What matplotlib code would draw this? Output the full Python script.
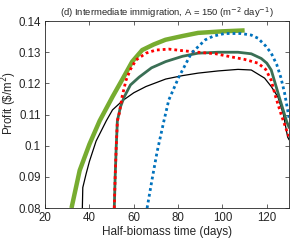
import matplotlib
matplotlib.use("Agg")
import matplotlib.pyplot as plt

plt.rcParams['font.family'] = ['Liberation Sans', 'DejaVu Sans']

# Data
green_x = [31.9, 35.6, 40, 44.6, 50.4, 55, 59.3, 63.8, 69, 74.3, 82, 89, 100, 110]
green_y = [0.080, 0.0921, 0.1005, 0.108, 0.1157, 0.1215, 0.127, 0.1307, 0.1325, 0.134, 0.1352, 0.1362, 0.1367, 0.137]

red_x = [51.2, 51.6, 52.1, 52.6, 53.5, 54.8, 56.5, 58.5, 61, 65.5, 70, 75.8, 82, 89, 97, 104, 110, 116, 119.5, 122, 124, 126.5, 129.4, 130]
red_y = [0.080, 0.090, 0.100, 0.108, 0.1105, 0.116, 0.121, 0.1245, 0.1275, 0.1297, 0.1307, 0.131, 0.1305, 0.130, 0.1295, 0.1285, 0.1277, 0.1265, 0.1245, 0.121, 0.1157, 0.110, 0.104, 0.103]

dkgreen_x = [51.2, 51.6, 52.1, 52.6, 54, 55.7, 58.5, 62.4, 68, 74.4, 82, 89, 98, 107, 113, 117.5, 120, 122, 126, 129, 130]
dkgreen_y = [0.080, 0.090, 0.100, 0.108, 0.1125, 0.1157, 0.1195, 0.122, 0.125, 0.127, 0.1287, 0.1297, 0.130, 0.130, 0.1295, 0.128, 0.1265, 0.1243, 0.1147, 0.1077, 0.106]

black_x = [36.8, 37, 38.5, 40, 43, 47.6, 50.4, 55, 60, 65.5, 74.4, 82, 89, 98, 107, 113, 119, 122, 125, 127.5, 129.4, 130]
black_y = [0.080, 0.0866, 0.091, 0.095, 0.1015, 0.108, 0.1115, 0.1145, 0.117, 0.119, 0.1214, 0.1225, 0.1233, 0.124, 0.1245, 0.1243, 0.1217, 0.119, 0.1157, 0.110, 0.1028, 0.102]

blue_x = [66, 68.2, 70.5, 73.6, 75.8, 80.3, 86, 92.3, 96, 101, 108.4, 113, 116, 119.5, 122, 124.5, 126.3, 128, 129.4, 130]
blue_y = [0.080, 0.089, 0.098, 0.108, 0.1147, 0.122, 0.1297, 0.134, 0.1352, 0.136, 0.136, 0.1355, 0.1345, 0.132, 0.1297, 0.126, 0.122, 0.117, 0.1115, 0.109]

xticks = [20, 40, 60, 80, 100, 120]
yticks = [0.08, 0.09, 0.10, 0.11, 0.12, 0.13, 0.14]
yticklabels = ['0.08', '0.09', '0.1', '0.11', '0.12', '0.13', '0.14']

fig = plt.figure(figsize=(2.91, 2.42), dpi=100)
ax = fig.add_axes([0.155, 0.14, 0.838, 0.773])

ax.plot(black_x, black_y, color='black', lw=0.9)
ax.plot(green_x, green_y, color='#77AC30', lw=3.2, solid_capstyle='butt')
ax.plot(dkgreen_x, dkgreen_y, color='#3A6F55', lw=2.0)
ax.plot(red_x, red_y, color='#FF0000', lw=2.0, linestyle=(0, (1, 1.1)))
ax.plot(blue_x, blue_y, color='#0072BD', lw=2.0, linestyle=(0, (1, 1.1)))

ax.set_xlim(20, 130)
ax.set_ylim(0.08, 0.14)
ax.set_xticks(xticks)
ax.set_yticks(yticks)
ax.set_yticklabels(yticklabels)
ax.tick_params(direction='in', length=3, width=0.5, labelsize=8.3, colors='#262626',
               top=True, right=True, pad=3)
for s in ax.spines.values():
    s.set_linewidth(0.6)
    s.set_color('#262626')

ax.set_xlabel('Half-biomass time (days)', fontsize=8.5, color='#262626', labelpad=1)
ax.set_ylabel('Profit (\\$/m$^2$)', fontsize=8.3, color='#262626')
ax.yaxis.set_label_coords(-0.108, 0.56)
ax.set_title('(d) Intermediate immigration, A = 150 (m$^{-2}$ day$^{-1}$)', fontsize=6.8, pad=4, color='#262626')

fig.savefig('out.png', dpi=100)
